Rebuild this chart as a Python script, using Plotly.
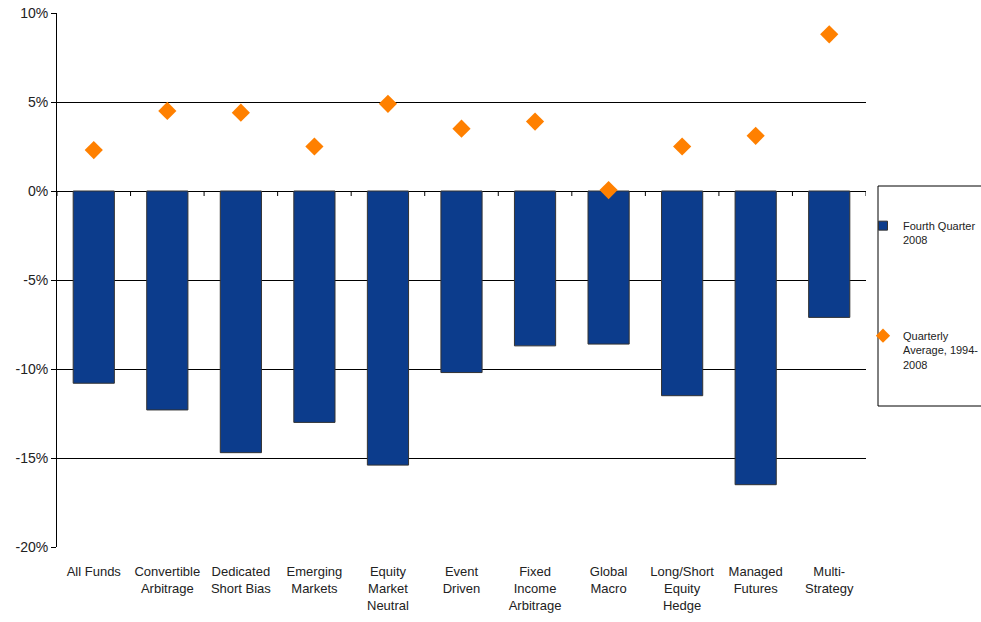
import plotly.graph_objects as go

categories = ["All Funds", "Convertible<br>Arbitrage", "Dedicated<br>Short Bias", "Emerging<br>Markets",
              "Equity<br>Market<br>Neutral", "Event<br>Driven", "Fixed<br>Income<br>Arbitrage", "Global<br>Macro",
              "Long/Short<br>Equity<br>Hedge", "Managed<br>Futures", "Multi-<br>Strategy"]
q4_2008 = [-10.8, -12.3, -14.7, -13.0, -15.4, -10.2, -8.7, -8.6, -11.5, -16.5, -7.1]
avg_1994_2008 = [2.3, 4.5, 4.4, 2.5, 4.9, 3.5, 3.9, 0.05, 2.5, 3.1, 8.8]
y_ticks = [-20, -15, -10, -5, 0, 5, 10]
y_tick_labels = ["-20%", "-15%", "-10%", "-5%", "0%", "5%", "10%"]
series_names = ["Fourth Quarter<br>2008", "Quarterly<br>Average, 1994-<br>2008"]

FONT = "Liberation Sans, Arial, sans-serif"
BLUE = "#0C3C8C"
ORANGE = "#FF8000"

xs = list(range(len(categories)))
fig = go.Figure()
fig.add_trace(go.Bar(
    x=xs, y=q4_2008, name=series_names[0],
    marker=dict(color=BLUE, line=dict(color="#333333", width=1)),
    showlegend=False,
))
fig.add_trace(go.Scatter(
    x=xs, y=avg_1994_2008, name=series_names[1],
    mode="markers", marker=dict(symbol="diamond", size=14, color=ORANGE),
    showlegend=False,
))
# legend-only entries with smaller symbols, like the reference legend
fig.add_trace(go.Scatter(
    x=[None], y=[None], name=series_names[0],
    mode="markers", marker=dict(symbol="square", size=9, color=BLUE, line=dict(color="#333333", width=1)),
    legend="legend",
))
fig.add_trace(go.Scatter(
    x=[None], y=[None], name=series_names[1],
    mode="markers", marker=dict(symbol="diamond", size=11, color=ORANGE),
    legend="legend2",
))

shapes = []
# category boundary ticks on the zero line
for i in range(len(categories) + 1):
    shapes.append(dict(type="line", xref="x", yref="y", x0=i - 0.5, x1=i - 0.5,
                       ysizemode="pixel", yanchor=0, y0=0, y1=-5,
                       line=dict(color="black", width=1)))
# legend frame
shapes.append(dict(type="rect", xref="paper", yref="paper", x0=(878 - 57) / 809, x1=1.3,
                   y0=(547 - 406) / 534, y1=(547 - 186) / 534,
                   line=dict(color="black", width=1), fillcolor="rgba(0,0,0,0)"))

legend_common = dict(
    xanchor="left", yanchor="top", bgcolor="rgba(0,0,0,0)", borderwidth=0,
    font=dict(family=FONT, size=11, color="#222222"),
    valign="top", itemwidth=30,
)

fig.update_layout(
    width=981, height=622,
    margin=dict(l=57, r=115, t=13, b=75, autoexpand=False),
    paper_bgcolor="white", plot_bgcolor="white",
    bargap=0.44,
    showlegend=True,
    shapes=shapes,
    legend=dict(x=(863 - 57) / 809, y=(547 - 212) / 534, **legend_common),
    legend2=dict(x=(863 - 57) / 809, y=(547 - 322) / 534, **legend_common),
    xaxis=dict(
        tickmode="array", tickvals=xs, ticktext=categories,
        range=[-0.5, len(categories) - 0.5], showgrid=False, zeroline=False, showline=False,
        ticks="", ticklabelstandoff=15,
        tickfont=dict(family=FONT, size=13, color="#222222"),
    ),
    yaxis=dict(
        range=[-20, 10], tickmode="array", tickvals=y_ticks, ticktext=y_tick_labels,
        showgrid=True, gridcolor="black", gridwidth=1,
        zeroline=True, zerolinecolor="black", zerolinewidth=1,
        showline=True, linecolor="black", linewidth=1,
        ticks="outside", ticklen=5, tickcolor="black",
        tickfont=dict(family=FONT, size=14, color="#222222"),
    ),
)

fig.write_html("out.html")
